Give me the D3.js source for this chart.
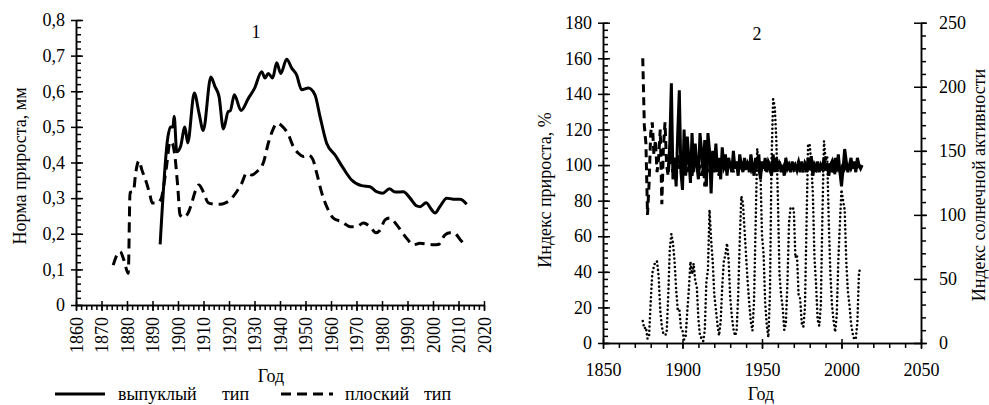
<!DOCTYPE html>
<html lang="ru">
<head>
    <meta charset="UTF-8">
    <title>Норма и индекс прироста</title>
    <script src="https://d3js.org/d3.v7.min.js"></script>
    <style>
        body {
            margin: 0;
            background: #fff;
        }
        svg text {
            font-family: 'Liberation Serif', 'DejaVu Serif', serif;
            font-size: 18px;
            fill: #000;
        }
        .axis path,
        .axis line {
            stroke: #000;
            stroke-width: 1.5;
        }
        .line {
            fill: none;
            stroke: #000;
        }
    </style>
</head>
<body>
    <svg width="989" height="405" font-family="Liberation Serif, DejaVu Serif, serif"></svg>
    <script>
        // ---- chart 1: норма прироста, мм ----
        const convexYears = [1893, 1896, 1897, 1898, 1898.5, 1899.5, 1901, 1902.7, 1903.8, 1906.4, 1908.2, 1909.9,
            1912.9, 1914.5, 1916.1, 1917.8, 1919.7, 1920.5, 1922.1, 1924.7, 1927.6, 1930, 1932.8, 1934.1, 1935.4,
            1937.1, 1938.7, 1940.3, 1942.6, 1944.6, 1946.5, 1948.5, 1951.1, 1953.7, 1955.7, 1958.3, 1961.6, 1964.8,
            1968.1, 1972, 1975.3, 1977.9, 1980.3, 1982.9, 1985.1, 1988.4, 1991, 1993.6, 1994.9, 1997.3, 1999.5,
            2000.8, 2002.7, 2005.4, 2008, 2010.6, 2013.2];
        const convexNorm = [0.17, 0.47, 0.50, 0.50, 0.53, 0.43, 0.445, 0.50, 0.455, 0.595, 0.54, 0.49,
            0.64, 0.613, 0.585, 0.494, 0.543, 0.545, 0.59, 0.546, 0.58, 0.608, 0.655, 0.637, 0.65,
            0.637, 0.68, 0.65, 0.69, 0.665, 0.646, 0.604, 0.609, 0.59, 0.529, 0.454, 0.421, 0.384,
            0.351, 0.335, 0.332, 0.318, 0.314, 0.326, 0.317, 0.318, 0.30, 0.278, 0.276, 0.287, 0.267,
            0.258, 0.276, 0.30, 0.297, 0.297, 0.283];

        const flatYears = [1874.6, 1876, 1877.3, 1878.8, 1880.5, 1881.2, 1882.5, 1883.4, 1884.7, 1885.8, 1887.7,
            1889, 1889.9, 1891.6, 1893.3, 1895.5, 1896.9, 1897.8, 1898.8, 1899.9, 1900.8, 1902.1, 1903.8, 1905.4,
            1906.7, 1908.2, 1909.9, 1911.9, 1914.5, 1916.5, 1918.4, 1920.4, 1923, 1925, 1926.9, 1928.9, 1930.9,
            1933.5, 1935.4, 1937.1, 1938.7, 1940.7, 1943.3, 1945.2, 1947.2, 1949.1, 1951.1, 1952.8, 1954.4,
            1956.4, 1958.9, 1960.9, 1964.2, 1967.5, 1970, 1972.7, 1975.3, 1977.6, 1979.2, 1981.2, 1983.1,
            1985.8, 1987.7, 1989.7, 1992.3, 1994.9, 1997.5, 2000.1, 2002.1, 2004.7, 2006.7, 2008.2, 2010.6, 2012.9];
        const flatNorm = [0.112, 0.14, 0.15, 0.126, 0.089, 0.316, 0.318, 0.37, 0.405, 0.38, 0.342,
            0.309, 0.286, 0.286, 0.297, 0.389, 0.459, 0.454, 0.417, 0.332, 0.253, 0.246, 0.256, 0.286,
            0.318, 0.337, 0.318, 0.287, 0.283, 0.283, 0.286, 0.295, 0.318, 0.342, 0.37, 0.365, 0.374,
            0.40, 0.454, 0.49, 0.51, 0.503, 0.478, 0.445, 0.426, 0.417, 0.421, 0.41, 0.37,
            0.314, 0.267, 0.244, 0.234, 0.22, 0.22, 0.23, 0.22, 0.203, 0.21, 0.239, 0.244,
            0.225, 0.206, 0.187, 0.169, 0.173, 0.171, 0.169, 0.17, 0.197, 0.203, 0.203, 0.184, 0.166];

        const normTicks = [0, 0.1, 0.2, 0.3, 0.4, 0.5, 0.6, 0.7, 0.8];
        const yearTicks1 = d3.range(1860, 2021, 10);

        // ---- chart 2: индекс прироста, % и солнечная активность ----
        const indexConvexStart = 1891;
        const indexConvex = [96, 112, 146, 92, 104, 88, 118, 142, 96, 86,
            120, 94, 116, 104, 90, 118, 96, 112, 100, 92,
            118, 108, 96, 114, 88, 118, 108, 84, 108, 98,
            112, 96, 104, 92, 110, 98, 106, 94, 104, 100,
            96, 108, 98, 102, 94, 106, 100, 96, 104, 98,
            102, 96, 106, 100, 94, 104, 98, 106, 92, 102,
            98, 104, 96, 102, 100, 94, 106, 96, 104, 98,
            102, 96, 100, 94, 104, 98, 100, 96, 102, 98,
            100, 97, 101, 96, 102, 98, 100, 96, 104, 97,
            105, 94, 100, 98, 102, 96, 100, 98, 104, 97,
            101, 94, 100, 102, 96, 104, 98, 106, 96, 88,
            98, 109, 102, 96, 100, 104, 98, 102, 96, 104,
            100, 98, 100];

        const indexFlatStart = 1875;
        const indexFlat = [160, 122, 112, 72, 90, 118, 124, 106, 114, 96,
            104, 120, 78, 110, 124, 100, 94, 108, 100, 96,
            104, 92, 106, 98, 102, 94, 104, 100, 96, 106,
            100, 94, 102, 98, 104, 96, 100, 94, 102, 88,
            100, 96, 104, 98, 100, 96, 102, 98, 94, 100,
            104, 98, 100, 96, 102, 98, 100, 96, 102, 98,
            100, 97, 102, 98, 100, 96, 101, 99, 97, 100,
            102, 98, 100, 97, 101, 98, 100, 96, 102, 99,
            97, 100, 102, 98, 100, 96, 101, 99, 98, 100,
            102, 97, 100, 98, 101, 96, 100, 99, 102, 98,
            100, 96, 101, 99, 97, 100, 102, 98, 100, 96,
            101, 99, 98, 100, 102, 97, 100, 98, 101, 96,
            100, 94, 102, 98, 100, 97, 101, 98, 100, 99,
            101, 98, 100, 99, 100, 99, 100, 98, 100];

        const sunStart = 1875;
        const sunspots = [17.1, 11.3, 12.3, 3.4, 6.0, 32.3, 54.3, 59.7, 63.7, 63.5,
            52.2, 25.4, 13.1, 6.8, 6.3, 7.1, 35.6, 73.0, 85.1, 78.0,
            64.0, 41.8, 26.2, 26.7, 12.1, 9.5, 2.7, 5.0, 24.4, 42.0,
            63.5, 53.8, 62.0, 48.5, 43.9, 18.6, 5.7, 3.6, 1.4, 9.6,
            47.4, 57.1, 103.9, 80.6, 63.6, 37.6, 26.1, 14.2, 5.8, 16.7,
            44.3, 63.9, 69.0, 77.8, 64.9, 35.7, 21.2, 11.1, 5.7, 8.7,
            36.1, 79.7, 114.4, 109.6, 88.8, 67.8, 47.5, 30.6, 16.3, 9.6,
            33.2, 92.6, 151.6, 136.3, 134.7, 83.9, 69.4, 31.5, 13.9, 4.4,
            38.0, 141.7, 190.2, 184.8, 159.0, 112.3, 53.9, 37.6, 27.9, 10.2,
            15.1, 47.0, 93.8, 105.9, 105.5, 104.5, 66.6, 68.9, 38.0, 34.5,
            15.5, 12.6, 27.5, 92.5, 155.4, 154.6, 140.4, 115.9, 66.6, 45.9,
            17.9, 13.4, 29.4, 100.2, 157.6, 142.6, 145.7, 94.3, 54.6, 29.9,
            17.5, 8.6, 21.5, 64.3, 93.3, 119.6, 111.0, 104.0, 63.7, 40.4,
            29.8, 15.2, 7.5, 2.9, 3.1, 16.5, 55.7, 57.6];

        const indexTicks = d3.range(0, 181, 20);
        const sunTicks = d3.range(0, 251, 50);
        const yearTicks2 = [1850, 1900, 1950, 2000, 2050];

        const svg = d3.select("svg");
        const serif = "'Liberation Serif', 'DejaVu Serif', serif";

        // ================= chart 1 =================
        const x1 = d3.scaleLinear().domain([1860, 2020]).range([76, 484]);
        const y1 = d3.scaleLinear().domain([0, 0.8]).range([305, 20]);

        const fmtComma = d => d === 0 ? "0" : d3.format(".1f")(d).replace(".", ",");

        svg.append("g").attr("class", "axis")
            .attr("transform", "translate(76,0)")
            .call(d3.axisRight(y1).tickValues(d3.range(0, 0.801, 0.02)).tickSize(5).tickSizeOuter(0).tickFormat(""));
        svg.append("g").attr("class", "axis")
            .attr("transform", "translate(76,0)")
            .call(d3.axisLeft(y1).tickValues(normTicks).tickSize(5).tickSizeOuter(0).tickPadding(6).tickFormat(fmtComma))
            .call(g => g.selectAll(".tick line").attr("x1", 7));

        svg.append("g").attr("class", "axis")
            .attr("transform", "translate(0,305)")
            .call(d3.axisBottom(x1).tickValues(d3.range(1860, 2021, 2)).tickSize(5).tickSizeOuter(0).tickFormat(""));
        svg.append("g").attr("class", "axis")
            .attr("transform", "translate(0,305)")
            .call(d3.axisBottom(x1).tickValues(yearTicks1).tickSize(6).tickSizeOuter(0).tickFormat(d3.format("d")))
            .call(g => g.selectAll(".tick line").attr("y1", -4))
            .call(g => g.selectAll(".tick text")
                .attr("transform", "rotate(-90)")
                .attr("text-anchor", "end")
                .attr("x", -12)
                .attr("y", 0)
                .attr("dy", "0.35em"));

        const line1 = d3.line().x(d => x1(d[0])).y(d => y1(d[1])).curve(d3.curveMonotoneX);

        svg.append("path").attr("class", "line")
            .attr("d", line1(flatYears.map((yr, i) => [yr, flatNorm[i]])))
            .attr("stroke-width", 3)
            .attr("stroke-dasharray", "10,6");
        svg.append("path").attr("class", "line")
            .attr("d", line1(convexYears.map((yr, i) => [yr, convexNorm[i]])))
            .attr("stroke-width", 3);

        svg.append("text").attr("x", 256).attr("y", 38).attr("text-anchor", "middle").text("1");
        svg.append("text").attr("x", 271).attr("y", 382).attr("text-anchor", "middle").text("Год");
        svg.append("text")
            .attr("transform", "translate(26,166) rotate(-90)")
            .attr("text-anchor", "middle")
            .text("Норма прироста, мм");

        // legend
        svg.append("line").attr("x1", 55).attr("x2", 105).attr("y1", 394).attr("y2", 394)
            .attr("stroke", "#000").attr("stroke-width", 3);
        svg.append("text").attr("x", 118).attr("y", 400).text("выпуклый");
        svg.append("text").attr("x", 222).attr("y", 400).text("тип");
        svg.append("line").attr("x1", 281).attr("x2", 333).attr("y1", 394).attr("y2", 394)
            .attr("stroke", "#000").attr("stroke-width", 3).attr("stroke-dasharray", "10,6");
        svg.append("text").attr("x", 345).attr("y", 400).text("плоский");
        svg.append("text").attr("x", 424).attr("y", 400).text("тип");

        // ================= chart 2 =================
        const x2 = d3.scaleLinear().domain([1850, 2050]).range([603, 921]);
        const y2 = d3.scaleLinear().domain([0, 180]).range([343, 22.7]);
        const y2r = d3.scaleLinear().domain([0, 250]).range([343, 22.7]);

        svg.append("g").attr("class", "axis")
            .attr("transform", "translate(603,0)")
            .call(d3.axisRight(y2).tickValues(d3.range(0, 181, 4)).tickSize(5).tickSizeOuter(0).tickFormat(""));
        svg.append("g").attr("class", "axis")
            .attr("transform", "translate(603,0)")
            .call(d3.axisLeft(y2).tickValues(indexTicks).tickSize(5).tickSizeOuter(0).tickPadding(6).tickFormat(d3.format("d")))
            .call(g => g.selectAll(".tick line").attr("x1", 7));

        svg.append("g").attr("class", "axis")
            .attr("transform", "translate(921,0)")
            .call(d3.axisRight(y2r).tickValues(d3.range(0, 251, 10)).tickSize(5).tickSizeOuter(0).tickFormat(""));
        svg.append("g").attr("class", "axis")
            .attr("transform", "translate(921,0)")
            .call(d3.axisRight(y2r).tickValues(sunTicks).tickSize(6).tickSizeOuter(0).tickPadding(12).tickFormat(d3.format("d")))
            .call(g => g.selectAll(".tick line").attr("x1", -7));

        svg.append("g").attr("class", "axis")
            .attr("transform", "translate(0,343)")
            .call(d3.axisBottom(x2).tickValues(d3.range(1850, 2051, 10)).tickSize(5).tickSizeOuter(0).tickFormat(""));
        svg.append("g").attr("class", "axis")
            .attr("transform", "translate(0,343)")
            .call(d3.axisBottom(x2).tickValues(yearTicks2).tickSize(6).tickSizeOuter(0).tickPadding(14).tickFormat(d3.format("d")))
            .call(g => g.selectAll(".tick line").attr("y1", -4));

        const sunLine = d3.line().x((d, i) => x2(sunStart + i)).y(d => y2r(d));
        svg.append("path").attr("class", "line")
            .attr("d", sunLine(sunspots))
            .attr("stroke-width", 2.6)
            .attr("stroke-linecap", "round")
            .attr("stroke-dasharray", "0,4.2");

        const flatLine = d3.line().x((d, i) => x2(indexFlatStart + i)).y(d => y2(d));
        svg.append("path").attr("class", "line")
            .attr("d", flatLine(indexFlat))
            .attr("stroke-width", 3)
            .attr("stroke-dasharray", "8,5");

        const convexLine = d3.line().x((d, i) => x2(indexConvexStart + i)).y(d => y2(d));
        svg.append("path").attr("class", "line")
            .attr("d", convexLine(indexConvex))
            .attr("stroke-width", 3);

        svg.append("text").attr("x", 757).attr("y", 40).attr("text-anchor", "middle").text("2");
        svg.append("text").attr("x", 761).attr("y", 400).attr("text-anchor", "middle").text("Год");
        svg.append("text")
            .attr("transform", "translate(551,190) rotate(-90)")
            .attr("text-anchor", "middle")
            .text("Индекс прироста, %");
        svg.append("text")
            .attr("transform", "translate(985,185) rotate(-90)")
            .attr("text-anchor", "middle")
            .text("Индекс солнечной активности");

        // make sure every text uses the serif face
        svg.selectAll("text").style("font-family", serif).style("font-size", "18px");
    </script>
</body>
</html>
